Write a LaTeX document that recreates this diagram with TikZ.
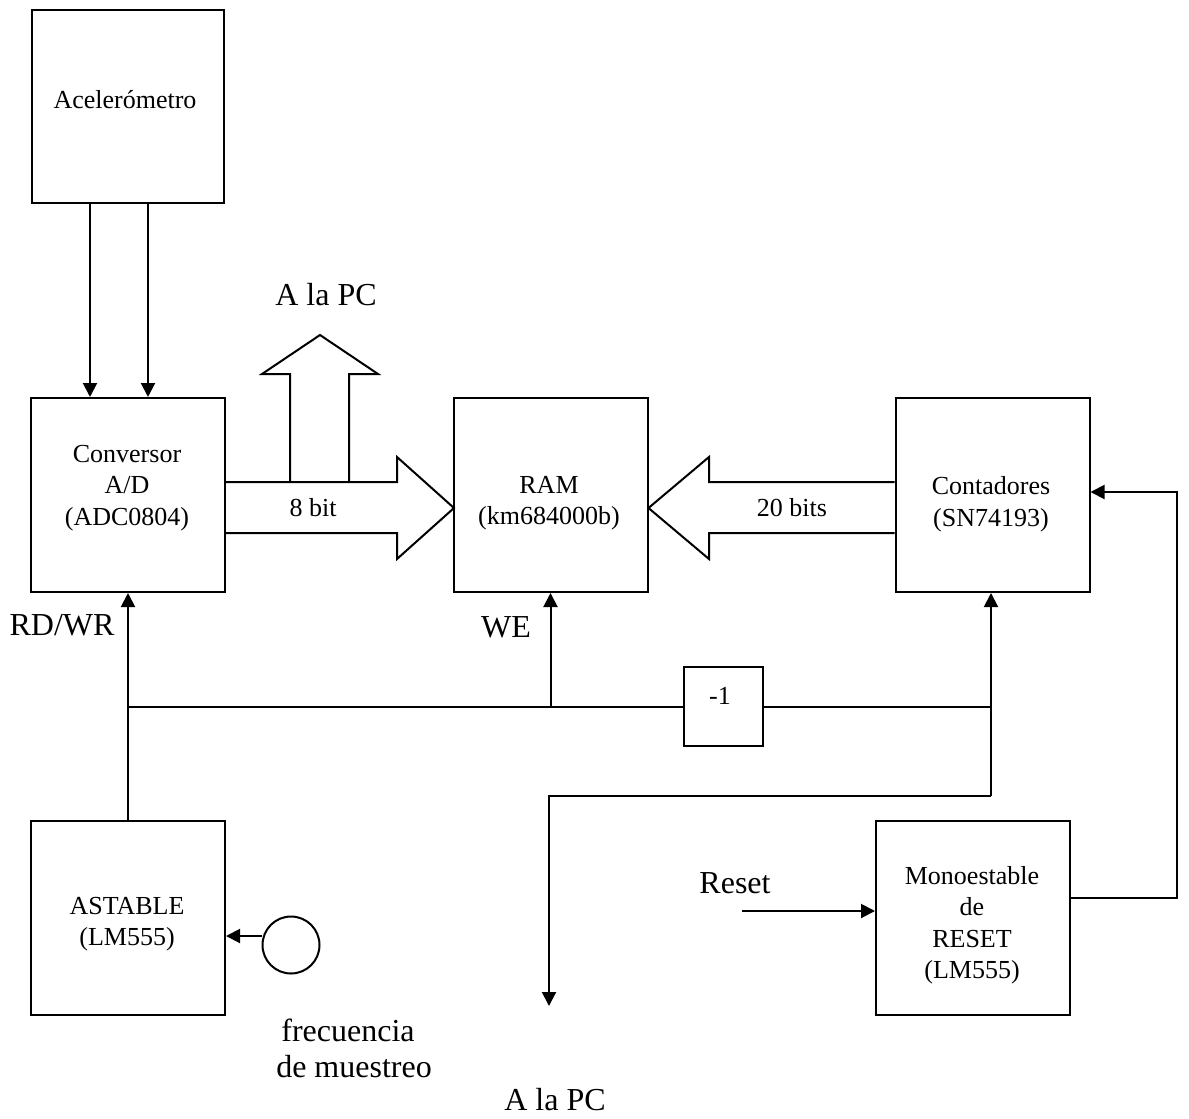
\documentclass[tikz,border=0pt]{standalone}
\usepackage{fontspec}
\setmainfont{Liberation Serif}
\usetikzlibrary{arrows.meta}
\begin{document}
\begin{tikzpicture}[x=1pt,y=-1pt,line width=2pt,
  blk/.style={draw, minimum width=194pt, minimum height=194pt, inner sep=0pt, align=center, font=\fontsize{26}{31.5}\selectfont},
  btxt/.style={inner sep=0pt, align=center, font=\fontsize{26}{31.5}\selectfont},
  lbl/.style={inner sep=0pt, align=center, font=\fontsize{32}{36}\selectfont},
  sig/.style={-{Triangle[length=14pt,width=14pt]}}]
\useasboundingbox[fill=white] (0,0) rectangle (1189,1119);

% blocks
\node[blk, minimum width=192pt, minimum height=193pt] (acc) at (128,106.5) {};
\node[btxt] (acct) at (125,100) {Acelerómetro};
\node[blk] (adc) at (128,495) {};
\node[btxt] (adct) at (127,488) {Conversor\\A/D\\(ADC0804)};
\node[blk] (ram) at (550.5,495) {};
\node[btxt] (ramt) at (549,503) {RAM\\(km684000b)};
\node[blk] (cnt) at (992.5,495) {};
\node[btxt] (cntt) at (991,504) {Contadores\\(SN74193)};
\node[blk] (ast) at (128,918) {};
\node[btxt] (astt) at (127,924) {ASTABLE\\(LM555)};
\node[blk] (mono) at (973,918) {};
\node[btxt] (monot) at (972,925) {Monoestable\\de\\RESET\\(LM555)};
\node[draw, minimum width=79pt, minimum height=79pt, inner sep=0pt] (neg) at (723.5,706.5) {};
\node[btxt] (negt) at (720,696) {-1};
\node[draw, circle, minimum size=57pt, inner sep=0pt] (osc) at (291,945) {};

% labels
\node[lbl] (pc1) at (326,295) {A la PC};
\node[btxt] (b8) at (313,508) {8 bit};
\node[btxt] (b20) at (792,508) {20 bits};
\node[lbl] (rdwr) at (62,625) {RD/WR};
\node[lbl] (we) at (506,627) {WE};
\node[lbl] (rst) at (735,883) {Reset};
\node[lbl] (frq) at (348,1048) {frecuencia\\\hspace*{12pt}de muestreo};
\node[lbl] (pc2) at (555,1100) {A la PC};

% accelerometer to ADC
\draw[sig] ([xshift=-38pt]acc.south) -- ([xshift=-38pt]adc.north);
\draw[sig] ([xshift=20pt]acc.south) -- ([xshift=20pt]adc.north);

% 8-bit bus arrow
\draw[line join=miter] (adc.east |- 0,482) -- (397,482) -- (397,457) -- (454,508) -- (397,559) -- (397,533) -- (adc.east |- 0,533);
% up arrow to PC
\draw[line join=miter] (290,482) -- (290,374) -- (262,374) -- (320,335) -- (378,374) -- (349,374) -- (349,482);

% 20-bit bus arrow
\draw[line join=miter] (cnt.west |- 0,482) -- (709,482) -- (709,457) -- (ram.east |- 0,508) -- (709,559) -- (709,533) -- (cnt.west |- 0,533);

% control lines
\coordinate (jl) at (ast.north |- neg.west);
\coordinate (jw) at (ram.south |- neg.west);
\coordinate (jr) at (991,706.5);
\coordinate (jd) at (991,796);
\coordinate (turn) at (549,796);
\coordinate (pcout) at (549,1006);
\draw[sig] (ast.north) -- (adc.south);
\draw (jl) -- (neg.west);
\draw[sig] (jw) -- (ram.south);
\draw (neg.east) -- (jr);
\draw[sig] (jd) -- (jd |- cnt.south);
\draw[sig,line join=miter] (jd) -- (turn) -- (pcout);

% oscillator
\draw[sig] ([yshift=9pt]osc.west) -- ([yshift=9pt]osc.west -| ast.east);

% reset
\coordinate (rin) at (742,911);
\draw[sig] (rin) -- (rin -| mono.west);
\draw[sig,line join=miter] ([yshift=20pt]mono.east) -- (1177,898) |- ([yshift=3pt]cnt.east);
\end{tikzpicture}
\end{document}
